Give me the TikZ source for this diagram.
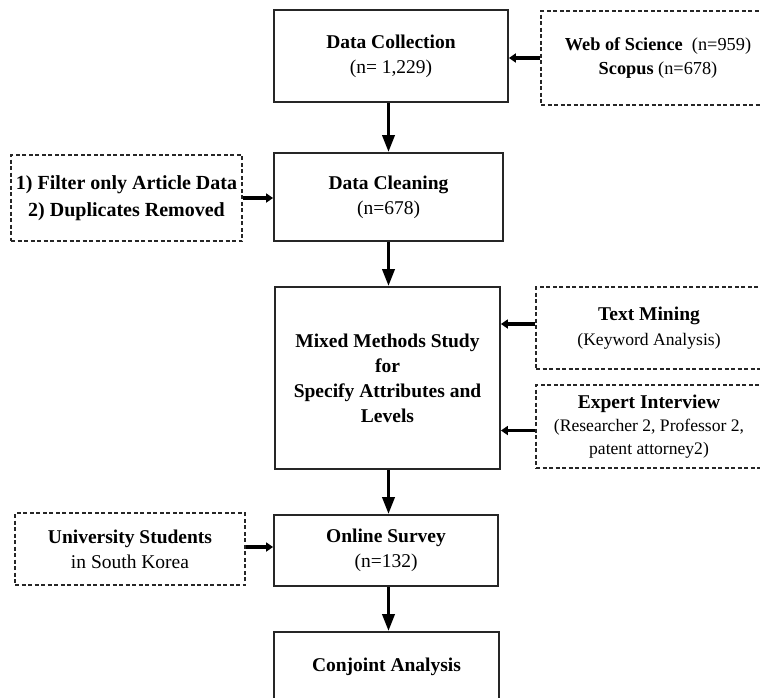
\documentclass[tikz,border=0pt]{standalone}
\usepackage{fontspec}
\setmainfont{Liberation Serif}
\usetikzlibrary{arrows.meta}
\tikzset{
  mainbox/.style={draw=black!85, line width=1.8pt, inner sep=0pt, align=center,
    font=\fontsize{19.5}{25}\selectfont},
  sidebox/.style={draw=black!85, line width=1.3pt, dash pattern=on 4pt off 2.5pt,
    inner sep=0pt, align=center, font=\fontsize{19.5}{25}\selectfont},
  vflow/.style={line width=3.5pt, -{Triangle[length=17pt,width=12pt]}},
  hflow/.style={line width=3.5pt, -{Triangle[length=7pt,width=9pt]}}
}
\begin{document}
\begin{tikzpicture}[x=1pt,y=-1pt]
\useasboundingbox (0,0) rectangle (760,697);
\begin{scope}
\clip (0,0) rectangle (760,697);
% main column
\node[mainbox, minimum width=234pt, minimum height=92pt] (dc) at (391,56)
  {\textbf{Data Collection}\\(n= 1,229)};
\node[mainbox, minimum width=229pt, minimum height=88pt] (clean) at (388.5,197)
  {\textbf{Data Cleaning}\\(n=678)};
\node[mainbox, minimum width=225pt, minimum height=182pt] (mixed) at (387.5,378)
  {\textbf{Mixed Methods Study}\\\textbf{for}\\\textbf{Specify Attributes and}\\\textbf{Levels}};
\node[mainbox, minimum width=224pt, minimum height=71pt] (survey) at (386,550.5)
  {\textbf{Online Survey}\\(n=132)};
\node[mainbox, minimum width=225pt, minimum height=70pt] (conj) at (386.5,667)
  {\textbf{Conjoint Analysis}};
% side boxes
\node[sidebox, minimum width=234pt, minimum height=94pt, font=\fontsize{18.3}{24}\selectfont] (wos) at (658,58)
  {\textbf{Web of Science}\ \ (n=959)\\\textbf{Scopus} (n=678)};
\node[sidebox, minimum width=231pt, minimum height=86pt, font=\fontsize{20}{27}\selectfont] (filter) at (126.5,198)
  {\textbf{1) Filter only Article Data}\\\textbf{2) Duplicates Removed}};
\node[sidebox, minimum width=226pt, minimum height=82pt, font=\fontsize{17.6}{25}\selectfont] (tm) at (649,328)
  {{\fontsize{19.5}{25}\selectfont\textbf{Text Mining}}\\(Keyword Analysis)};
\node[sidebox, minimum width=226pt, minimum height=83pt, font=\fontsize{17.6}{23}\selectfont] (ei) at (649,426.5)
  {{\fontsize{19.5}{25}\selectfont\textbf{Expert Interview}}\\(Researcher 2, Professor 2,\\patent attorney2)};
\node[sidebox, minimum width=230pt, minimum height=72pt] (us) at (130,549)
  {\textbf{University Students}\\in South Korea};
% connectors
\draw[vflow] (clean.north |- dc.south) -- (clean.north);
\draw[vflow] (clean.south) -- (clean.south |- mixed.north);
\draw[vflow] (clean.south |- mixed.south) -- (clean.south |- survey.north);
\draw[vflow] (clean.south |- survey.south) -- (clean.south |- conj.north);
\draw[hflow] (wos.west) -- (wos.west -| dc.east);
\draw[hflow] (filter.east) -- (filter.east -| clean.west);
\draw[hflow] ([yshift=4pt]tm.west) -- ([yshift=4pt]tm.west -| mixed.east);
\draw[hflow] ([yshift=-4pt]ei.west) -- ([yshift=-4pt]ei.west -| mixed.east);
\draw[hflow] ([yshift=2pt]us.east) -- ([yshift=2pt]us.east -| survey.west);
\end{scope}
\end{tikzpicture}
\end{document}
